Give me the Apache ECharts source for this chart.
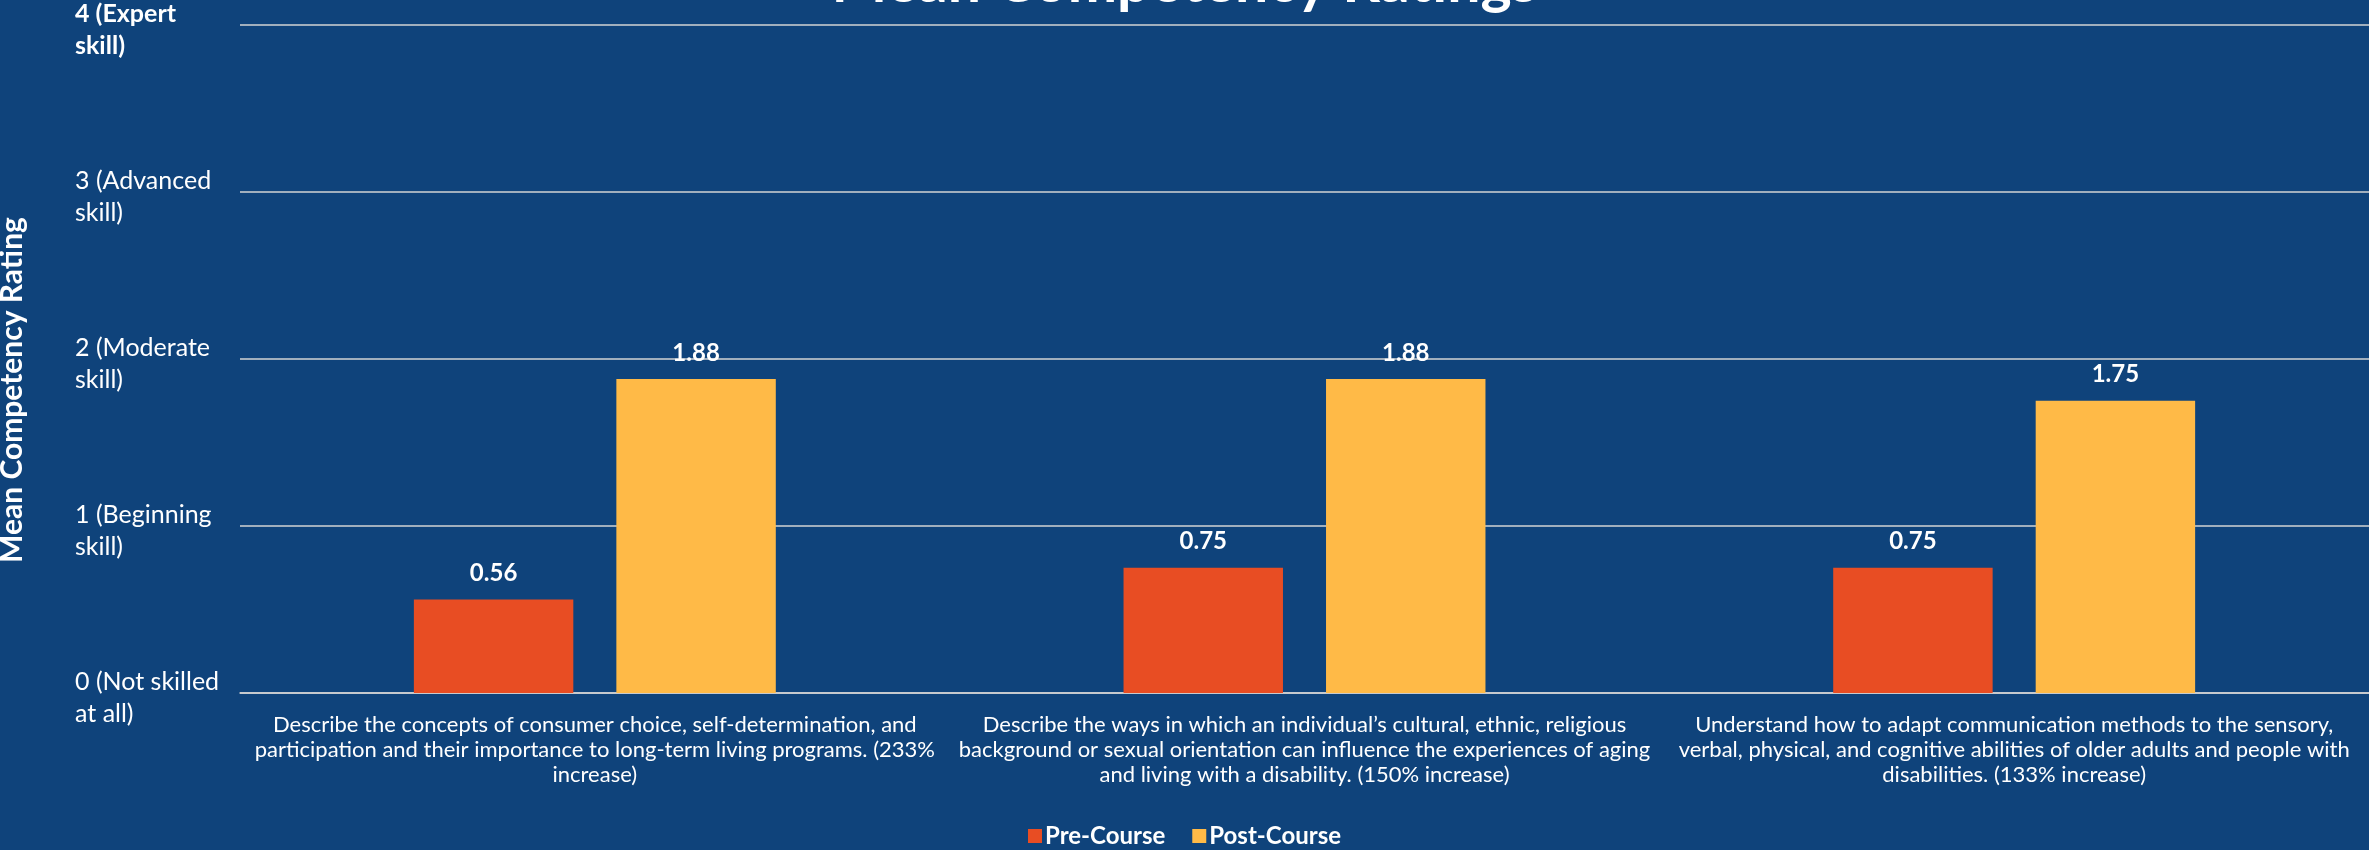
<!DOCTYPE html>
<html>
<head>
<meta charset="utf-8">
<title>Mean Competency Ratings</title>
<script src="https://cdn.jsdelivr.net/npm/echarts@6/dist/echarts.min.js"></script>
<style>
  html, body { margin: 0; padding: 0; background: #0F437B; overflow: hidden; }
  #chart { width: 2369px; height: 850px; }
</style>
</head>
<body>
<div id="chart"></div>
<script>
// Competency statements (x-axis categories), wrapped into lines
const categories = [
  'Describe the concepts of consumer choice, self-determination, and\nparticipation and their importance to long-term living programs. (233%\nincrease)',
  'Describe the ways in which an individual\u2019s cultural, ethnic, religious\nbackground or sexual orientation can influence the experiences of aging\nand living with a disability. (150% increase)',
  'Understand how to adapt communication methods to the sensory,\nverbal, physical, and cognitive abilities of older adults and people with\ndisabilities. (133% increase)'
];

// Mean ratings before and after the course
const preCourse = [0.56, 0.75, 0.75];
const postCourse = [1.88, 1.88, 1.75];

// Rating scale labels for the value axis (0..4)
const ratingLabels = [
  '0 (Not skilled\nat all)',
  '1 (Beginning\nskill)',
  '2 (Moderate\nskill)',
  '3 (Advanced\nskill)',
  '4 (Expert\nskill)'
];

const seriesNames = ['Pre-Course', 'Post-Course'];

const FONT = 'Lato, "Open Sans", sans-serif';
const WHITE = '#FFFFFF';
const GRID_COLOR = '#D3D3D3';

const chart = echarts.init(document.getElementById('chart'), null, { renderer: 'canvas' });

const barLabel = {
  show: true,
  position: 'top',
  distance: 14,
  color: WHITE,
  fontFamily: FONT,
  fontWeight: 'bold',
  fontSize: 24,
  formatter: p => p.value.toFixed(2)
};

chart.setOption({
  backgroundColor: '#0F437B',
  textStyle: { fontFamily: FONT },
  title: {
    text: 'Mean Competency Ratings',
    left: 'center',
    top: -52,
    textStyle: { color: WHITE, fontFamily: FONT, fontWeight: 'bold', fontSize: 59 }
  },
  legend: {
    data: seriesNames,
    left: 'center',
    top: 819,
    icon: 'rect',
    itemWidth: 14,
    itemHeight: 14,
    itemGap: 27,
    textStyle: { color: WHITE, fontFamily: FONT, fontWeight: 'bold', fontSize: 24, padding: [0, 0, 0, -2] }
  },
  graphic: [{
    type: 'text',
    x: 12,
    y: 390,
    rotation: Math.PI / 2,
    style: {
      text: 'Mean Competency Rating',
      fill: WHITE,
      font: 'bold 30px ' + FONT,
      textAlign: 'center',
      textVerticalAlign: 'middle'
    }
  }],
  grid: {
    left: 240, right: 0, top: 25, bottom: 157,
    containLabel: false,
    outerBoundsMode: 'none'
  },
  xAxis: {
    type: 'category',
    data: categories,
    axisLine: { show: true, lineStyle: { color: GRID_COLOR, width: 1.5 } },
    axisTick: { show: false },
    axisLabel: {
      interval: 0,
      margin: 19,
      color: WHITE,
      fontFamily: FONT,
      fontSize: 22,
      lineHeight: 25,
      align: 'center'
    }
  },
  yAxis: {
    type: 'value',
    min: 0,
    max: 4,
    interval: 1,
    axisLine: { show: false },
    axisTick: { show: false },
    splitLine: { show: true, lineStyle: { color: GRID_COLOR, width: 1.5 } },
    axisLabel: {
      margin: 165,
      align: 'left',
      color: WHITE,
      fontFamily: FONT,
      fontSize: 25,
      lineHeight: 32,
      padding: [10, 0, 0, 0],
      formatter: v => {
        const t = ratingLabels[Math.round(v)];
        return v === 4 ? '{b|' + t.replace('\n', '}\n{b|') + '}' : t;
      },
      rich: {
        b: { color: WHITE, fontFamily: FONT, fontWeight: 'bold', fontSize: 25, lineHeight: 32 }
      }
    }
  },
  series: [
    {
      name: seriesNames[0],
      type: 'bar',
      data: preCourse,
      barGap: '27%',
      barCategoryGap: '49%',
      itemStyle: { color: '#E84D23' },
      label: barLabel
    },
    {
      name: seriesNames[1],
      type: 'bar',
      data: postCourse,
      barGap: '27%',
      barCategoryGap: '49%',
      itemStyle: { color: '#FFBA47' },
      label: barLabel
    }
  ]
});
</script>
</body>
</html>
